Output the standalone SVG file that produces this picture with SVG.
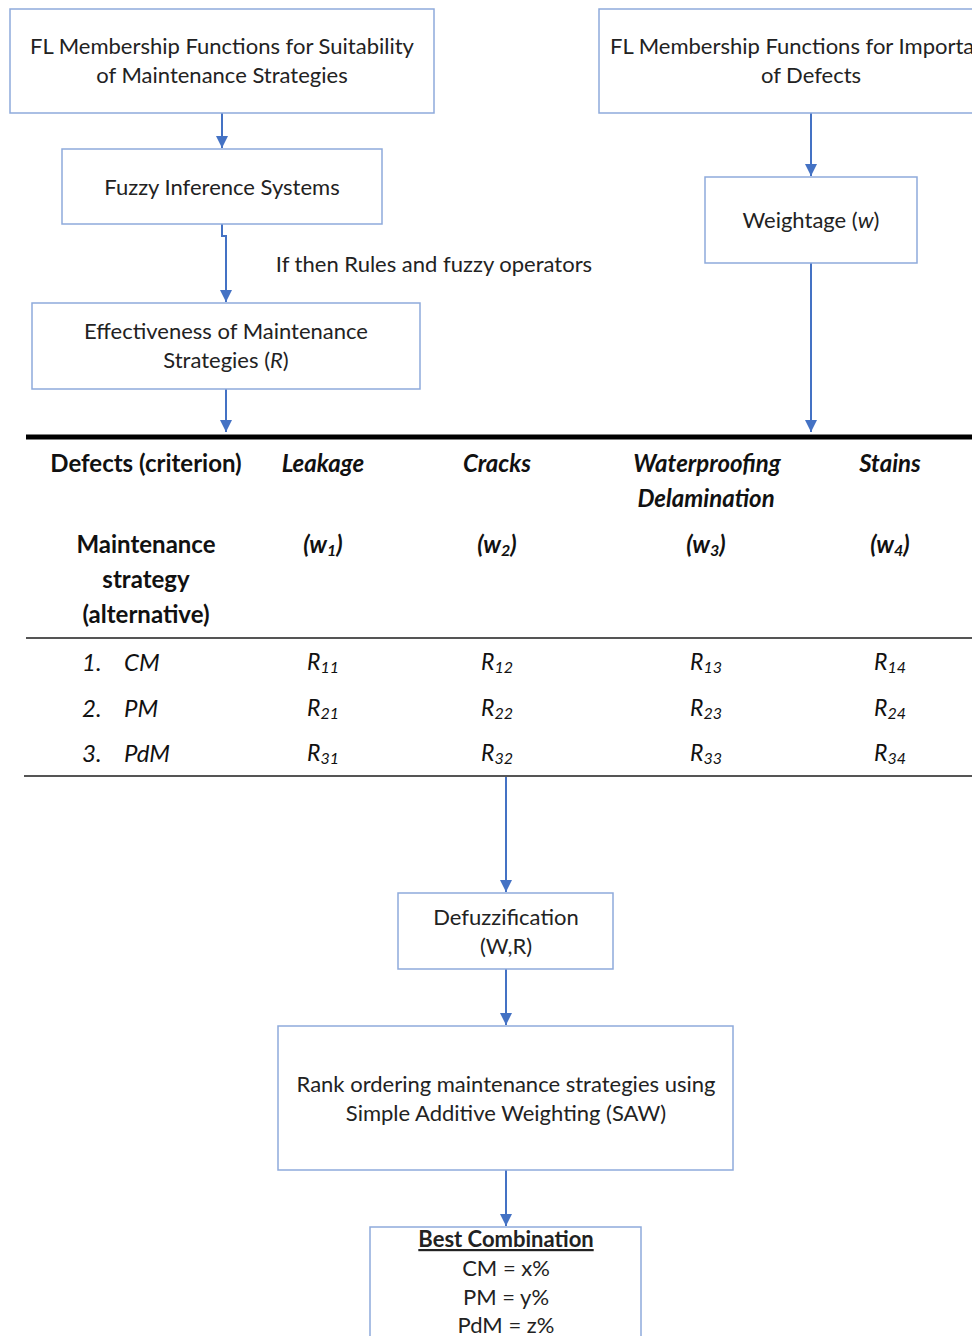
<svg xmlns="http://www.w3.org/2000/svg" width="972" height="1336" viewBox="0 0 972 1336">
<style>
.box{fill:#fff;stroke:#8eaadb;stroke-width:1.5}
.t{font-family:Lato,"Liberation Sans",sans-serif;font-size:22px;fill:#222;text-anchor:middle}
.h{font-family:Lato,"Liberation Sans",sans-serif;font-size:24px;font-weight:bold;fill:#111;text-anchor:middle}
.hi{font-style:italic}
.r{font-family:Lato,"Liberation Sans",sans-serif;font-size:23px;font-style:italic;fill:#111;text-anchor:middle}
.rl{font-family:Lato,"Liberation Sans",sans-serif;font-size:24px;font-style:italic;fill:#111;text-anchor:start}
.c{fill:none;stroke:#4472c4;stroke-width:2}
</style>
<defs>
<marker id="a" viewBox="0 0 12 12" refX="12" refY="6" markerWidth="12" markerHeight="12" markerUnits="userSpaceOnUse" orient="auto">
<path d="M0,0 L12,6 L0,12 z" fill="#4472c4"/>
</marker>
</defs>

<g id="connectors">
<path class="c" d="M222,113 V148" marker-end="url(#a)"/>
<path class="c" d="M222,224 V236 H226 V302" marker-end="url(#a)"/>
<path class="c" d="M226,389 V432" marker-end="url(#a)"/>
<path class="c" d="M811,113 V176" marker-end="url(#a)"/>
<path class="c" d="M811,263 V432" marker-end="url(#a)"/>
<path class="c" d="M506,776 V892" marker-end="url(#a)"/>
<path class="c" d="M506,969 V1025" marker-end="url(#a)"/>
<path class="c" d="M506,1170 V1226" marker-end="url(#a)"/>
</g>

<g id="fl-suitability">
<rect class="box" x="10" y="9" width="424" height="104"/>
<text class="t" x="222" y="54">FL Membership Functions for Suitability</text>
<text class="t" x="222" y="83">of Maintenance Strategies</text>
</g>

<g id="fis">
<rect class="box" x="62" y="149" width="320" height="75"/>
<text class="t" x="222" y="195">Fuzzy Inference Systems</text>
</g>

<g id="rules-label">
<text class="t" x="434" y="272">If then Rules and fuzzy operators</text>
</g>

<g id="effectiveness">
<rect class="box" x="32" y="303" width="388" height="86"/>
<text class="t" x="226" y="339">Effectiveness of Maintenance</text>
<text class="t" x="226" y="368">Strategies (<tspan font-style="italic">R</tspan>)</text>
</g>

<g id="fl-importance">
<rect class="box" x="599" y="9" width="424" height="104"/>
<text class="t" x="610" y="54" text-anchor="start" style="text-anchor:start">FL Membership Functions for Importance</text>
<text class="t" x="811" y="83">of Defects</text>
</g>

<g id="weightage">
<rect class="box" x="705" y="177" width="212" height="86"/>
<text class="t" x="811" y="228">Weightage (<tspan font-style="italic">w</tspan>)</text>
</g>

<g id="table">
<line x1="26" y1="437" x2="972" y2="437" stroke="#000" stroke-width="5"/>
<text class="h" x="146" y="472">Defects (criterion)</text>
<text class="h hi" x="323" y="472">Leakage</text>
<text class="h hi" x="497" y="472">Cracks</text>
<text class="h hi" x="707" y="472">Waterproofing</text>
<text class="h hi" x="706" y="507">Delamination</text>
<text class="h hi" x="890" y="472">Stains</text>
<text class="h" x="146" y="553">Maintenance</text>
<text class="h" x="146" y="588">strategy</text>
<text class="h" x="146" y="623">(alternative)</text>
<text class="h hi" x="323" y="553">(w<tspan font-size="16" dy="3">1</tspan><tspan dy="-3">)</tspan></text>
<text class="h hi" x="497" y="553">(w<tspan font-size="16" dy="3">2</tspan><tspan dy="-3">)</tspan></text>
<text class="h hi" x="706" y="553">(w<tspan font-size="16" dy="3">3</tspan><tspan dy="-3">)</tspan></text>
<text class="h hi" x="890" y="553">(w<tspan font-size="16" dy="3">4</tspan><tspan dy="-3">)</tspan></text>
<line x1="26" y1="638" x2="972" y2="638" stroke="#555" stroke-width="2"/>

<text class="rl" x="82" y="671">1.</text>
<text class="rl" x="124" y="671">CM</text>
<text class="rl" x="82" y="717">2.</text>
<text class="rl" x="124" y="717">PM</text>
<text class="rl" x="82" y="762">3.</text>
<text class="rl" x="124" y="762">PdM</text>

<text class="r" x="323" y="670">R<tspan font-size="16" dy="3">11</tspan></text>
<text class="r" x="497" y="670">R<tspan font-size="16" dy="3">12</tspan></text>
<text class="r" x="706" y="670">R<tspan font-size="16" dy="3">13</tspan></text>
<text class="r" x="890" y="670">R<tspan font-size="16" dy="3">14</tspan></text>
<text class="r" x="323" y="716">R<tspan font-size="16" dy="3">21</tspan></text>
<text class="r" x="497" y="716">R<tspan font-size="16" dy="3">22</tspan></text>
<text class="r" x="706" y="716">R<tspan font-size="16" dy="3">23</tspan></text>
<text class="r" x="890" y="716">R<tspan font-size="16" dy="3">24</tspan></text>
<text class="r" x="323" y="761">R<tspan font-size="16" dy="3">31</tspan></text>
<text class="r" x="497" y="761">R<tspan font-size="16" dy="3">32</tspan></text>
<text class="r" x="706" y="761">R<tspan font-size="16" dy="3">33</tspan></text>
<text class="r" x="890" y="761">R<tspan font-size="16" dy="3">34</tspan></text>
<line x1="24" y1="776" x2="972" y2="776" stroke="#555" stroke-width="2"/>
</g>

<g id="defuzzification">
<rect class="box" x="398" y="893" width="215" height="76"/>
<text class="t" x="506" y="925">Defuzzification</text>
<text class="t" x="506" y="954">(W,R)</text>
</g>

<g id="rank">
<rect class="box" x="278" y="1026" width="455" height="144"/>
<text class="t" x="506" y="1092">Rank ordering maintenance strategies using</text>
<text class="t" x="506" y="1121">Simple Additive Weighting (SAW)</text>
</g>

<g id="best">
<rect class="box" x="370" y="1227" width="271" height="120"/>
<text class="t" x="506" y="1247" font-weight="bold" text-decoration="underline">Best Combination</text>
<text class="t" x="506" y="1276">CM = x%</text>
<text class="t" x="506" y="1305">PM = y%</text>
<text class="t" x="506" y="1333">PdM = z%</text>
</g>
</svg>
